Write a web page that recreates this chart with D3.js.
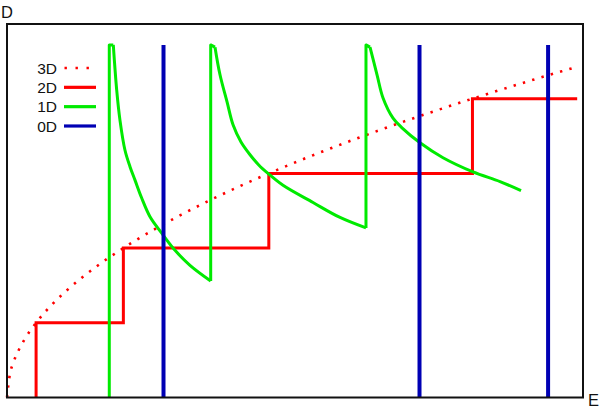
<!DOCTYPE html>
<html><head><meta charset="utf-8">
<script src="https://cdn.jsdelivr.net/npm/d3@7"></script>
<style>body{margin:0;background:#fff}svg{display:block}</style>
</head><body>
<script>
// ---- data ----
const legendLabels = ["3D", "2D", "1D", "0D"];
const axisLabels = ["E", "D"];
// 3D: sqrt-like curve (energy, density)
const curve3dE = [0, 0.5, 1, 2, 3, 5, 7.5, 10, 15, 20, 25, 30, 40, 50, 60, 70, 80, 90, 97.5];
const curve3dD = [0, 0.316, 0.447, 0.632, 0.775, 1.0, 1.225, 1.414, 1.732, 2.0, 2.236, 2.449, 2.828, 3.162, 3.464, 3.742, 4.0, 4.243, 4.416];
// 2D: staircase
const steps2dE = [5, 20, 45, 80];
const steps2dD = [1, 2, 3, 4];
const end2dE = 98;
// 1D: subband edges and decaying branches
const edges1dE = [17.58, 35.01, 61.7];
const branch1E = [18.27, 18.86, 19.42, 20.28, 21.14, 22.0, 23.15, 24.58, 26.59, 28.88, 31.45, 35.01];
const branch1D = [4.72, 4.11, 3.71, 3.31, 3.09, 2.91, 2.67, 2.42, 2.20, 1.97, 1.77, 1.56];
const branch2E = [35.75, 36.61, 37.81, 38.85, 40.22, 41.77, 43.31, 44.86, 47.44, 52.6, 57.24, 61.7];
const branch2D = [4.69, 4.32, 3.96, 3.65, 3.42, 3.25, 3.11, 3.00, 2.84, 2.61, 2.41, 2.27];
const branch3E = [62.39, 63.6, 64.63, 66.35, 67.89, 70.99, 74.94, 80.1, 84.74, 88.35];
const branch3D = [4.69, 4.32, 4.01, 3.74, 3.61, 3.41, 3.21, 3.02, 2.89, 2.77];
const peakTopD = 4.72;
// 0D: discrete levels
const levels0dE = [26.9, 70.9, 93.0];

// ---- chart ----
const W = 600, H = 410;
const colors = {d3: "#ff0000", d2: "#ff0000", d1: "#00ea00", d0: "#0000b4"};
const x = d3.scaleLinear().domain([0, 99]).range([7, 583]);
const y = d3.scaleLinear().domain([0, 5]).range([397.5, 24]);

const svg = d3.select("body").append("svg").attr("width", W).attr("height", H);
const line = d3.line().x(d => x(d[0])).y(d => y(d[1]));
const smooth = d3.line().x(d => x(d[0])).y(d => y(d[1])).curve(d3.curveCatmullRom.alpha(0.5));
const g = svg.append("g");

// 3D
const p3 = curve3dE.map((e, i) => [e, curve3dD[i]]);
g.append("path").attr("d", d3.line().x(d => x(d[0])).y(d => y(d[1])).curve(d3.curveMonotoneX)(p3))
  .attr("fill", "none").attr("stroke", colors.d3).attr("stroke-width", 2.6)
  .attr("stroke-dasharray", "2.4 7.3");

// 2D
const p2 = [];
steps2dE.forEach((e, i) => { p2.push([e, i === 0 ? 0 : steps2dD[i - 1]]); p2.push([e, steps2dD[i]]); });
p2.push([end2dE, steps2dD[steps2dD.length - 1]]);
g.append("path").attr("d", line(p2)).attr("fill", "none").attr("stroke", colors.d2).attr("stroke-width", 3);

// 1D
const branches = [[branch1E, branch1D], [branch2E, branch2D], [branch3E, branch3D]];
edges1dE.forEach((e, i) => {
  const base = i === 0 ? 0 : branches[i - 1][1][branches[i - 1][1].length - 1];
  const [be, bd] = branches[i];
  const seg = [[e, base], [e, peakTopD], [be[0], bd[0]]];
  g.append("path").attr("d", line(seg)).attr("fill", "none").attr("stroke", colors.d1)
    .attr("stroke-width", 3).attr("stroke-linejoin", "round");
  g.append("path").attr("d", smooth(be.map((v, j) => [v, bd[j]]))).attr("fill", "none")
    .attr("stroke", colors.d1).attr("stroke-width", 3).attr("stroke-linejoin", "round");
});

// 0D
g.selectAll("line.zero").data(levels0dE).enter().append("line").attr("class", "zero")
  .attr("x1", d => x(d)).attr("x2", d => x(d)).attr("y1", y(0)).attr("y2", y(peakTopD))
  .attr("stroke", colors.d0).attr("stroke-width", 4);

// frame
svg.append("rect").attr("x", x.range()[0]).attr("y", y.range()[1])
  .attr("width", x.range()[1] - x.range()[0]).attr("height", y.range()[0] - y.range()[1])
  .attr("fill", "none").attr("stroke", "#111").attr("stroke-width", 2);

// axis labels
const font = "Liberation Sans, Arial, Helvetica, sans-serif";
svg.append("text").text(axisLabels[1]).attr("x", 1).attr("y", 17.5)
  .attr("font-family", font).attr("font-size", 16.5).attr("fill", "#111");
svg.append("text").text(axisLabels[0]).attr("x", 588).attr("y", 405.5)
  .attr("font-family", font).attr("font-size", 16.5).attr("fill", "#111");

// legend
const legStyles = [
  {c: colors.d3, dash: "2.4 8.6", w: 2.6},
  {c: colors.d2, dash: null, w: 3.2},
  {c: colors.d1, dash: null, w: 3.2},
  {c: colors.d0, dash: null, w: 3.2}
];
const ly = d3.scalePoint().domain(legendLabels).range([68, 126]);
const leg = svg.append("g");
legendLabels.forEach((lab, i) => {
  leg.append("text").text(lab).attr("x", 57).attr("y", ly(lab) + 5.5).attr("text-anchor", "end")
    .attr("font-family", font).attr("font-size", 15.5).attr("fill", "#111");
  const l = leg.append("line").attr("x1", 64).attr("x2", 96).attr("y1", ly(lab)).attr("y2", ly(lab))
    .attr("stroke", legStyles[i].c).attr("stroke-width", legStyles[i].w);
  if (legStyles[i].dash) l.attr("stroke-dasharray", legStyles[i].dash).attr("x1", 64.5);
});
</script>
</body></html>
